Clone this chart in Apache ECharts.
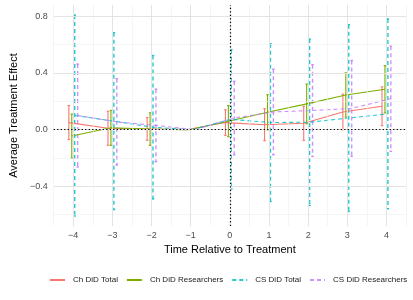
<!DOCTYPE html>
<html>
<head>
<meta charset="utf-8">
<script src="https://cdn.jsdelivr.net/npm/echarts@6/dist/echarts.min.js"></script>
<style>
html,body{margin:0;padding:0;background:#fff;}
#chart{width:413px;height:300px;}
</style>
</head>
<body>
<div id="chart"></div>
<script>
// ---- data ----
const periods = [-4, -3, -2, -1, 0, 1, 2, 3, 4];
const seriesNames = ['Ch DiD Total', 'Ch DiD Researchers', 'CS DiD Total', 'CS DiD Researchers'];
const chTotal      = [0.05, 0.01, 0.005, 0, 0.05, 0.035, 0.045, 0.125, 0.165];
const chTotalCI    = [0.12, 0.12, 0.08, null, 0.09, 0.113, 0.12, 0.126, 0.137];
const chRes        = [-0.045, 0.013, 0.004, 0, 0.06, 0.123, 0.182, 0.245, 0.285];
const chResCI      = [0.155, 0.123, 0.115, null, 0.11, 0.124, 0.14, 0.156, 0.167];
const csTotal      = [0.1, 0.06, 0.017, 0, 0.073, 0.05, 0.053, 0.082, 0.112];
const csTotalCI    = [0.709, 0.624, 0.506, null, 0.492, 0.557, 0.587, 0.659, 0.67];
const csRes        = [0.1, 0.055, 0.03, 0, 0.082, 0.125, 0.135, 0.15, 0.218];
const csResCI      = [0.363, 0.305, 0.256, null, 0.259, 0.302, 0.324, 0.338, 0.371];
const xTickValues  = [-4, -3, -2, -1, 0, 1, 2, 3, 4];
const xTickLabels  = ['\u22124', '\u22123', '\u22122', '\u22121', '0', '1', '2', '3', '4'];
const yTickValues  = [-0.4, 0, 0.4, 0.8];
const yTickLabels  = ['\u22120.4', '0.0', '0.4', '0.8'];
const yMinorBreaks = [-0.6, -0.2, 0.2, 0.6];
const xMinorBreaks = [-4.5, -3.5, -2.5, -1.5, -0.5, 0.5, 1.5, 2.5, 3.5, 4.5];

// ---- styles ----
const colors = ['#F8766D', '#7CAE00', '#00BFC4', '#C77CFF'];
const dashed = [false, false, true, true];
const dodge = [-0.1125, -0.0375, 0.0375, 0.1125];
const FONT = 'Liberation Sans, Arial, Helvetica, sans-serif';
const values = [chTotal, chRes, csTotal, csRes];
const cis = [chTotalCI, chResCI, csTotalCI, csResCI];

function errRender(color, isDashed) {
  return function (params, api) {
    const x = api.value(0), lo = api.value(1), hi = api.value(2);
    const t = api.coord([x, hi]);
    const b = api.coord([x, lo]);
    const c = 1.3;
    const style = {
      stroke: color,
      lineWidth: isDashed ? 1.4 : 1.1,
      lineDash: isDashed ? [4, 3] : null,
      opacity: isDashed ? 0.85 : 1,
      fill: null
    };
    return {
      type: 'group',
      children: [
        {type: 'line', shape: {x1: t[0], y1: t[1], x2: b[0], y2: b[1]}, style: style},
        {type: 'line', shape: {x1: t[0] - c, y1: t[1], x2: t[0] + c, y2: t[1]}, style: style},
        {type: 'line', shape: {x1: b[0] - c, y1: b[1], x2: b[0] + c, y2: b[1]}, style: style}
      ]
    };
  };
}

const series = [];
// gridlines
series.push({
  type: 'line', name: '_grid', data: [], z: 0, silent: true,
  markLine: {
    silent: true, symbol: ['none', 'none'], label: {show: false}, animation: false,
    data: [].concat(
      yTickValues.map(v => ({yAxis: v, lineStyle: {color: '#e3e3e3', width: 1, type: 'solid'}})),
      yMinorBreaks.map(v => ({yAxis: v, lineStyle: {color: '#efefef', width: 0.6, type: 'solid'}})),
      xTickValues.map(v => ({xAxis: v, lineStyle: {color: '#e3e3e3', width: 1, type: 'solid'}})),
      xMinorBreaks.map(v => ({xAxis: v, lineStyle: {color: '#efefef', width: 0.6, type: 'solid'}}))
    )
  }
});

for (let s = 0; s < 4; s++) {
  const eb = [];
  periods.forEach((p, i) => {
    if (cis[s][i] != null) eb.push([p + dodge[s], values[s][i] - cis[s][i], values[s][i] + cis[s][i]]);
  });
  series.push({
    type: 'custom', name: '_err' + s, data: eb, z: 2,
    encode: {x: 0, y: [1, 2]},
    renderItem: errRender(colors[s], dashed[s]),
    clip: true, silent: true, animation: false
  });
}
for (let s = 0; s < 4; s++) {
  series.push({
    type: 'line', name: seriesNames[s], z: 3,
    data: periods.map((p, i) => [p + dodge[s], values[s][i]]),
    symbol: 'none', showSymbol: false, animation: false,
    lineStyle: {color: colors[s], width: 1.1, type: dashed[s] ? [4, 3] : 'solid', opacity: dashed[s] ? 0.85 : 1},
    itemStyle: {color: colors[s]}
  });
}
// reference dotted lines
series.push({
  type: 'line', name: '_ref', data: [], z: 10, silent: true,
  markLine: {
    silent: true, symbol: ['none', 'none'], label: {show: false}, animation: false,
    lineStyle: {color: '#000', width: 1.2, type: [1.3, 2.2]},
    data: [{yAxis: 0}, {xAxis: 0}]
  }
});

const chart = echarts.init(document.getElementById('chart'), null, {renderer: 'canvas'});
chart.setOption({
  animation: false,
  backgroundColor: '#fff',
  textStyle: {fontFamily: FONT},
  grid: {left: 44, right: 7, top: 5, bottom: 74, containLabel: false},
  xAxis: {
    type: 'value', min: -4.5, max: 4.5, splitNumber: 9,
    axisLine: {show: false}, axisTick: {show: false}, splitLine: {show: false},
    axisLabel: {
      color: '#4d4d4d', fontSize: 9, fontFamily: FONT, margin: 5,
      showMinLabel: false, showMaxLabel: false,
      formatter: function (v) {
        const i = xTickValues.findIndex(t => Math.abs(t - v) < 1e-6);
        return i >= 0 ? xTickLabels[i] : '';
      }
    },
    name: 'Time Relative to Treatment', nameLocation: 'middle', nameGap: 15,
    nameTextStyle: {color: '#000', fontSize: 11, fontFamily: FONT}
  },
  yAxis: {
    type: 'value', min: -0.68, max: 0.88, splitNumber: 8,
    axisLine: {show: false}, axisTick: {show: false}, splitLine: {show: false},
    axisLabel: {
      color: '#4d4d4d', fontSize: 9, fontFamily: FONT, margin: 6,
      showMinLabel: false, showMaxLabel: false,
      formatter: function (v) {
        const i = yTickValues.findIndex(t => Math.abs(t - v) < 1e-6);
        return i >= 0 ? yTickLabels[i] : '';
      }
    },
    name: 'Average Treatment Effect', nameLocation: 'middle', nameGap: 27, nameRotate: 90,
    nameTextStyle: {color: '#000', fontSize: 11, fontFamily: FONT}
  },
  legend: {
    data: seriesNames, left: 49, top: 276, width: 364, orient: 'horizontal', padding: 0,
    itemWidth: 15, itemHeight: 10, itemGap: 8,
    itemStyle: {color: 'transparent', borderWidth: 0, opacity: 0},
    textStyle: {color: '#1a1a1a', fontSize: 8, fontFamily: FONT, padding: [0, 0, 0, 3]},
    selectedMode: false
  },
  series: series
});
</script>
</body>
</html>
